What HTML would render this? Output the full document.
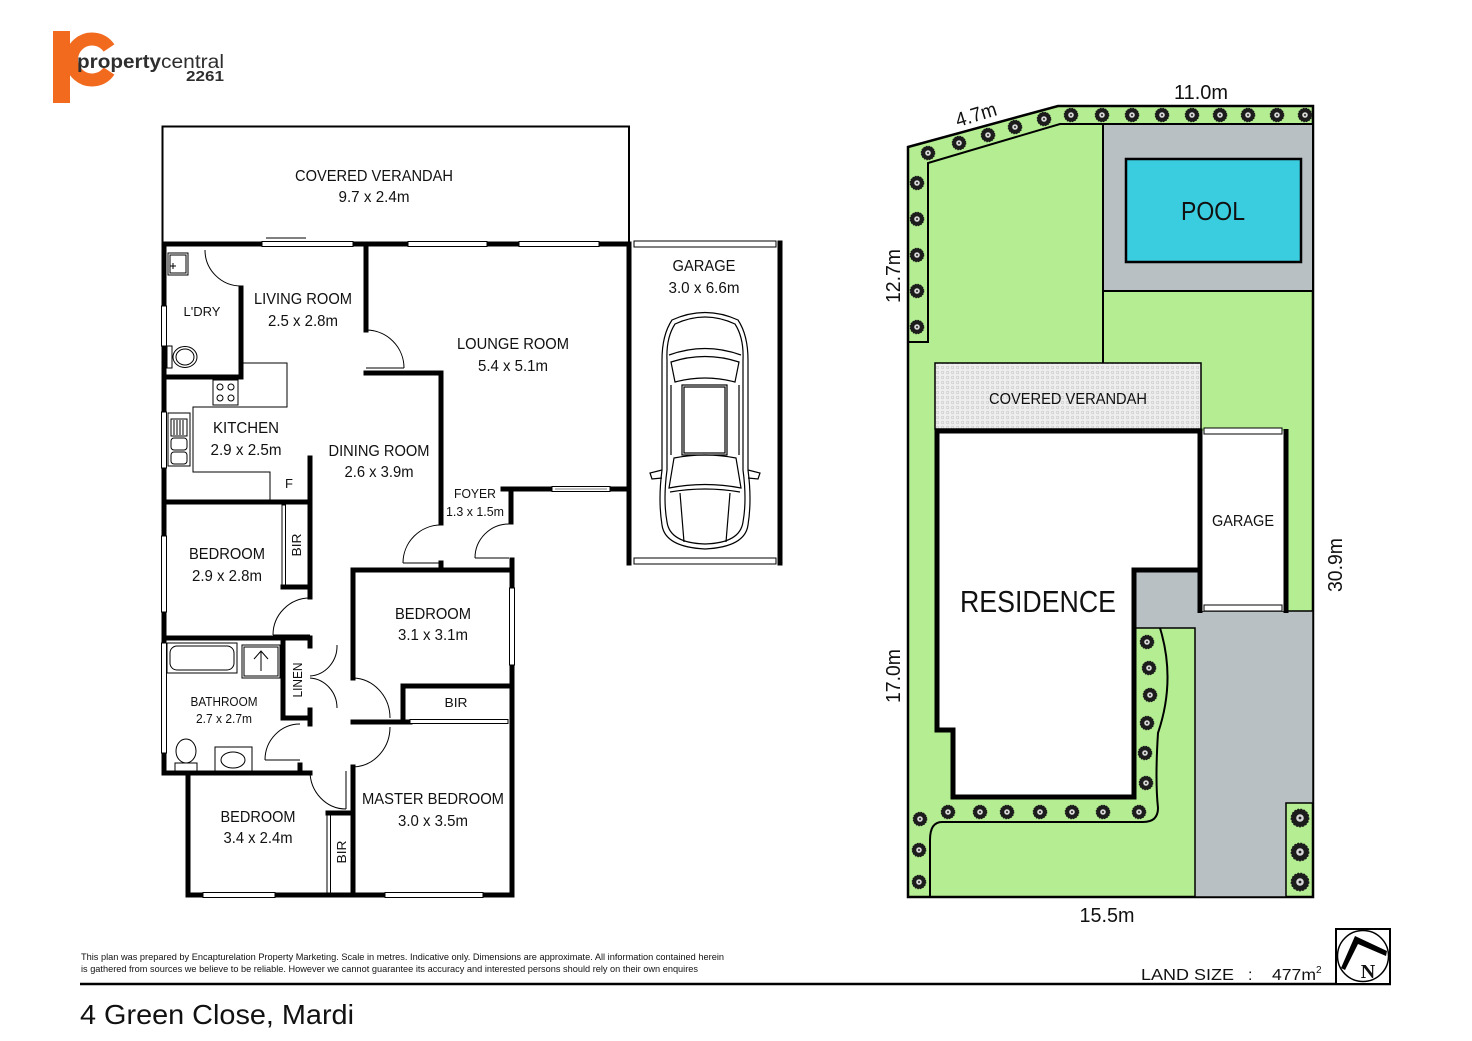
<!DOCTYPE html>
<html><head><meta charset="utf-8"><style>
html,body{margin:0;padding:0;background:#fff;}
svg{display:block;}
text{font-family:"Liberation Sans",Arial,sans-serif;fill:#111;}
</style></head><body>
<svg width="1472" height="1041" viewBox="0 0 1472 1041" xmlns="http://www.w3.org/2000/svg">
<defs>
<g id="sh"><circle r="6.8" fill="#1c1c1c" stroke="#1c1c1c" stroke-width="1" stroke-dasharray="1.5 1.2"/><circle r="2.8" fill="#d6d6d6"/><circle r="1" fill="#222"/></g>
<g id="shb"><circle r="8.8" fill="#1c1c1c" stroke="#1c1c1c" stroke-width="1.2" stroke-dasharray="1.8 1.4"/><circle r="3.8" fill="#d6d6d6"/><circle r="1.4" fill="#222"/></g>
<pattern id="dots" width="5" height="5" patternUnits="userSpaceOnUse"><rect width="5" height="5" fill="#eeeeee"/><circle cx="2.5" cy="2.5" r="1.3" fill="none" stroke="#c8c8c8" stroke-width="0.6"/></pattern>
</defs>

<!-- LOGO -->
<rect x="53" y="31" width="17" height="72" fill="#f26a1d"/>
<path d="M 109 48 A 20.5 20.5 0 1 0 109 71" fill="none" stroke="#f26a1d" stroke-width="13"/>
<text x="77" y="68" font-size="19" font-weight="bold" textLength="84" lengthAdjust="spacingAndGlyphs" style="fill:#2e2e2e">property</text>
<text x="161" y="68" font-size="19" textLength="63" lengthAdjust="spacingAndGlyphs" style="fill:#2e2e2e">central</text>
<text x="186" y="81" font-size="15" font-weight="bold" textLength="38" lengthAdjust="spacingAndGlyphs" style="fill:#2e2e2e">2261</text>

<!-- ================= FLOOR PLAN ================= -->
<rect x="162.5" y="126.5" width="466.5" height="116" fill="none" stroke="#000" stroke-width="2"/>
<text x="374" y="181" font-size="16" text-anchor="middle" textLength="158" lengthAdjust="spacingAndGlyphs">COVERED VERANDAH</text>
<text x="374" y="202" font-size="16" text-anchor="middle" textLength="71" lengthAdjust="spacingAndGlyphs">9.7 x 2.4m</text>

<g stroke="#000" stroke-width="5" stroke-linecap="square" fill="none">
<line x1="164" y1="244" x2="629" y2="244"/>
<line x1="164" y1="244" x2="164" y2="773"/>
<line x1="164" y1="773" x2="310" y2="773"/>
<line x1="188" y1="773" x2="188" y2="895"/>
<line x1="188" y1="895" x2="512" y2="895"/>
<line x1="512" y1="560" x2="512" y2="895"/>
<line x1="511" y1="489" x2="511" y2="522"/>
<line x1="503" y1="489" x2="629" y2="489"/>
<line x1="629" y1="244" x2="629" y2="563"/>
<line x1="780" y1="243" x2="780" y2="563"/>
<line x1="366" y1="244" x2="366" y2="330"/>
<line x1="366" y1="373" x2="441" y2="373"/>
<line x1="441" y1="373" x2="441" y2="523"/>
<line x1="441" y1="563" x2="441" y2="569"/>
<line x1="353" y1="570" x2="512" y2="570"/>
<line x1="353" y1="570" x2="353" y2="678"/>
<line x1="353" y1="722" x2="410" y2="722"/>
<line x1="403" y1="686" x2="512" y2="686"/>
<line x1="403" y1="686" x2="403" y2="722"/>
<line x1="353" y1="767" x2="353" y2="895"/>
<line x1="328" y1="813" x2="353" y2="813"/>
<line x1="241" y1="288" x2="241" y2="377"/>
<line x1="164" y1="377" x2="241" y2="377"/>
<line x1="310" y1="458" x2="310" y2="502"/>
<line x1="164" y1="502" x2="310" y2="502"/>
<line x1="310" y1="502" x2="310" y2="597"/>
<line x1="283" y1="587" x2="310" y2="587"/>
<line x1="164" y1="638" x2="310" y2="638"/>
<line x1="283" y1="642" x2="283" y2="718"/>
<line x1="283" y1="718" x2="310" y2="718"/>
<line x1="310" y1="638" x2="310" y2="646"/>
<line x1="310" y1="710" x2="310" y2="724"/>
<line x1="300" y1="765" x2="300" y2="773"/>
</g>

<g fill="#fff" stroke="#000" stroke-width="1">
<rect x="262" y="241.5" width="91" height="5"/>
<rect x="408" y="241.5" width="79" height="5"/>
<rect x="519" y="241.5" width="80" height="5"/>
<rect x="161.5" y="306" width="5" height="40"/>
<rect x="161.5" y="412" width="5" height="56"/>
<rect x="161.5" y="536" width="5" height="76"/>
<rect x="161.5" y="643" width="5" height="110"/>
<rect x="203" y="892.5" width="72" height="5"/>
<rect x="385" y="892.5" width="98" height="5"/>
<rect x="509.5" y="588" width="5" height="77"/>
<rect x="552" y="486.5" width="58" height="5"/>
<rect x="634" y="241" width="142" height="6"/>
<rect x="634" y="558" width="142" height="6"/>
<rect x="410" y="719.5" width="98" height="4"/>
<rect x="282" y="505" width="3.5" height="80"/>
<rect x="327" y="815" width="3.5" height="78"/>
</g>
<line x1="266" y1="238" x2="306" y2="238" stroke="#000" stroke-width="1"/>
<line x1="555" y1="489" x2="607" y2="489" stroke="#000" stroke-width="0.6"/>

<g fill="none" stroke="#000" stroke-width="1">
<path d="M 205 250 A 36 36 0 0 0 241 286"/>
<path d="M 366 330 A 38 38 0 0 1 404 368"/><line x1="366" y1="368" x2="404" y2="368"/>
<path d="M 403 563 A 38 38 0 0 1 441 525"/><line x1="403" y1="563" x2="441" y2="563"/>
<path d="M 475 558 A 34 34 0 0 1 509 524"/><line x1="475" y1="558" x2="509" y2="558"/>
<path d="M 273 635 A 37 37 0 0 1 310 598"/><line x1="273" y1="635" x2="310" y2="635"/>
<path d="M 353 678 A 38 40 0 0 1 390 718"/>
<path d="M 390 727 A 38 40 0 0 1 353 767"/>
<path d="M 337 645 A 29 30 0 0 1 310 676"/>
<path d="M 310 678 A 29 30 0 0 1 337 708"/>
<path d="M 265 760 A 35 36 0 0 1 300 724"/><line x1="265" y1="760" x2="300" y2="760"/>
<path d="M 310 771 A 36 38 0 0 0 346 809"/><line x1="346" y1="771" x2="346" y2="809"/>
</g>

<g fill="none" stroke="#000" stroke-width="1">
<rect x="168" y="253" width="20" height="22"/><rect x="170" y="255" width="16" height="18"/>
<line x1="170" y1="266" x2="176" y2="266"/><line x1="173" y1="263" x2="173" y2="269"/>
<rect x="167" y="346" width="5" height="22"/>
<ellipse cx="185" cy="357" rx="12" ry="10.5"/><ellipse cx="185" cy="357" rx="9" ry="8"/>
<polyline points="243,363 287,363 287,407 193,407 193,472 270,472 270,501"/>
<rect x="213" y="380" width="25" height="25"/>
<circle cx="220" cy="387" r="3"/><circle cx="231" cy="387" r="3"/><circle cx="220" cy="398" r="3"/><circle cx="231" cy="398" r="3"/>
<rect x="168" y="413" width="22" height="53"/>
<rect x="171" y="419" width="16" height="17"/>
<line x1="174" y1="420" x2="174" y2="435"/><line x1="177" y1="420" x2="177" y2="435"/><line x1="180" y1="420" x2="180" y2="435"/><line x1="183" y1="420" x2="183" y2="435"/>
<rect x="171" y="438" width="16" height="12" rx="3"/><rect x="171" y="452" width="16" height="12" rx="3"/>
<rect x="167" y="643" width="70" height="30"/><rect x="170" y="646" width="64" height="24" rx="7"/>
<rect x="242" y="645" width="38" height="33"/><rect x="244" y="647" width="34" height="29"/>
<line x1="261" y1="651" x2="261" y2="671"/><polyline points="254,659 261,651 268,659"/>
<ellipse cx="186" cy="751" rx="10" ry="12"/><rect x="175" y="763" width="22" height="8"/>
<rect x="215" y="747" width="37" height="26"/><ellipse cx="233" cy="760" rx="12" ry="8"/>
</g>

<!-- car -->
<g fill="none" stroke="#000" stroke-width="1.2">
<path d="M 672 320 Q 705 305 738 320 Q 748 335 748 360 L 748 470 Q 752 500 748 525 Q 745 547 705 549 Q 665 547 662 525 Q 658 500 662 470 L 662 360 Q 662 335 672 320 Z"/>
<path d="M 675 324 Q 705 310 735 324 Q 744 338 743 360 L 743 470 Q 747 500 743 522 Q 740 543 705 544 Q 670 543 667 522 Q 663 500 667 470 L 667 360 Q 666 338 675 324 Z"/>
<path d="M 669 355 Q 705 342 741 355"/>
<path d="M 671 362 Q 705 351 739 362 L 735 382 Q 705 374 675 382 Z"/>
<rect x="682" y="385" width="45" height="70"/><rect x="684" y="387" width="41" height="66"/>
<path d="M 674 458 Q 705 452 736 458 L 741 488 Q 705 481 669 488 Z"/>
<path d="M 670 492 Q 705 486 740 492"/>
<line x1="680" y1="493" x2="684" y2="542"/><line x1="730" y1="493" x2="726" y2="542"/>
<path d="M 662 470 L 650 473 L 652 479 L 662 478"/>
<path d="M 748 470 L 760 473 L 758 479 L 748 478"/>
<line x1="671" y1="385" x2="671" y2="455"/><line x1="739" y1="385" x2="739" y2="455"/>
</g>

<g font-size="16" text-anchor="middle">
<text x="303" y="304" textLength="98" lengthAdjust="spacingAndGlyphs">LIVING ROOM</text>
<text x="303" y="326" textLength="70" lengthAdjust="spacingAndGlyphs">2.5 x 2.8m</text>
<text x="202" y="316" font-size="13" textLength="37" lengthAdjust="spacingAndGlyphs">L'DRY</text>
<text x="513" y="349" textLength="112" lengthAdjust="spacingAndGlyphs">LOUNGE ROOM</text>
<text x="513" y="371" textLength="70" lengthAdjust="spacingAndGlyphs">5.4 x 5.1m</text>
<text x="704" y="271" textLength="63" lengthAdjust="spacingAndGlyphs">GARAGE</text>
<text x="704" y="293" textLength="71" lengthAdjust="spacingAndGlyphs">3.0 x 6.6m</text>
<text x="246" y="433" textLength="66" lengthAdjust="spacingAndGlyphs">KITCHEN</text>
<text x="246" y="455" textLength="71" lengthAdjust="spacingAndGlyphs">2.9 x 2.5m</text>
<text x="379" y="456" textLength="101" lengthAdjust="spacingAndGlyphs">DINING ROOM</text>
<text x="379" y="477" textLength="69" lengthAdjust="spacingAndGlyphs">2.6 x 3.9m</text>
<text x="289" y="488" font-size="13">F</text>
<text x="475" y="498" font-size="13" textLength="42" lengthAdjust="spacingAndGlyphs">FOYER</text>
<text x="475" y="516" font-size="13" textLength="58" lengthAdjust="spacingAndGlyphs">1.3 x 1.5m</text>
<text x="227" y="559" textLength="76" lengthAdjust="spacingAndGlyphs">BEDROOM</text>
<text x="227" y="581" textLength="70" lengthAdjust="spacingAndGlyphs">2.9 x 2.8m</text>
<text x="433" y="619" textLength="76" lengthAdjust="spacingAndGlyphs">BEDROOM</text>
<text x="433" y="640" textLength="70" lengthAdjust="spacingAndGlyphs">3.1 x 3.1m</text>
<text x="224" y="706" font-size="13" textLength="67" lengthAdjust="spacingAndGlyphs">BATHROOM</text>
<text x="224" y="723" font-size="13" textLength="56" lengthAdjust="spacingAndGlyphs">2.7 x 2.7m</text>
<text x="456" y="707" font-size="13" textLength="23" lengthAdjust="spacingAndGlyphs">BIR</text>
<text x="433" y="804" textLength="142" lengthAdjust="spacingAndGlyphs">MASTER BEDROOM</text>
<text x="433" y="826" textLength="70" lengthAdjust="spacingAndGlyphs">3.0 x 3.5m</text>
<text x="258" y="822" textLength="75" lengthAdjust="spacingAndGlyphs">BEDROOM</text>
<text x="258" y="843" textLength="69" lengthAdjust="spacingAndGlyphs">3.4 x 2.4m</text>
<text transform="translate(301,545) rotate(-90)" font-size="13" textLength="23" lengthAdjust="spacingAndGlyphs">BIR</text>
<text transform="translate(302,680) rotate(-90)" font-size="13" textLength="35" lengthAdjust="spacingAndGlyphs">LINEN</text>
<text transform="translate(346,852) rotate(-90)" font-size="13" textLength="23" lengthAdjust="spacingAndGlyphs">BIR</text>
</g>

<!-- ================= SITE PLAN ================= -->
<polygon points="908,147 1058,106 1313,106 1313,897 908,897" fill="#b5ee92" stroke="#000" stroke-width="2.5"/>
<polyline points="908,342 928,342 928,163 1060,124 1313,124" fill="none" stroke="#000" stroke-width="2"/>
<rect x="1103" y="124" width="210" height="167" fill="#b8c0c3" stroke="#000" stroke-width="2"/>
<rect x="1126" y="159" width="175" height="103" fill="#3acde0" stroke="#000" stroke-width="2.5"/>
<text x="1213" y="220" font-size="26" text-anchor="middle" textLength="64" lengthAdjust="spacingAndGlyphs">POOL</text>
<line x1="1103" y1="291" x2="1103" y2="363" stroke="#000" stroke-width="2"/>
<rect x="935" y="363" width="266" height="66" fill="url(#dots)" stroke="#000" stroke-width="1.5"/>
<text x="1068" y="404" font-size="16" text-anchor="middle" textLength="158" lengthAdjust="spacingAndGlyphs">COVERED VERANDAH</text>
<polygon points="1135,571 1200,571 1200,611 1313,611 1313,803 1286,803 1286,897 1195,897 1195,628 1135,628" fill="#b8c0c3" stroke="#000" stroke-width="1.5"/>
<polygon points="937,431 1200,431 1200,570 1134,570 1134,797 953,797 953,730 937,730" fill="#fff" stroke="#000" stroke-width="5"/>
<text x="1038" y="612" font-size="31" text-anchor="middle" textLength="156" lengthAdjust="spacingAndGlyphs">RESIDENCE</text>
<rect x="1200" y="431" width="86" height="180" fill="#fff"/>
<line x1="1200" y1="429" x2="1200" y2="613" stroke="#000" stroke-width="5"/>
<line x1="1286" y1="429" x2="1286" y2="613" stroke="#000" stroke-width="5"/>
<rect x="1204" y="428" width="78" height="6" fill="#fff" stroke="#000" stroke-width="1"/>
<rect x="1204" y="605" width="78" height="6" fill="#fff" stroke="#000" stroke-width="1"/>
<text x="1243" y="526" font-size="16" text-anchor="middle" textLength="62" lengthAdjust="spacingAndGlyphs">GARAGE</text>
<path d="M 1160 628 Q 1176 680 1158 733 Q 1155 780 1158 808 Q 1158 822 1143 822 L 942 822 Q 930 822 930 840 L 930 897" fill="none" stroke="#000" stroke-width="2"/>
<g>
<use href="#sh" x="928" y="153"/><use href="#sh" x="959" y="143"/><use href="#sh" x="988" y="135"/><use href="#sh" x="1015" y="127"/><use href="#sh" x="1044" y="119"/>
<use href="#sh" x="1071" y="115"/><use href="#sh" x="1102" y="115"/><use href="#sh" x="1132" y="115"/><use href="#sh" x="1162" y="115"/><use href="#sh" x="1192" y="115"/><use href="#sh" x="1220" y="115"/><use href="#sh" x="1248" y="115"/><use href="#sh" x="1277" y="115"/><use href="#sh" x="1305" y="115"/>
<use href="#sh" x="917" y="183"/><use href="#sh" x="917" y="219"/><use href="#sh" x="917" y="255"/><use href="#sh" x="917" y="291"/><use href="#sh" x="917" y="327"/>
<use href="#sh" x="1147" y="642"/><use href="#sh" x="1149" y="668"/><use href="#sh" x="1150" y="695"/><use href="#sh" x="1147" y="723"/><use href="#sh" x="1145" y="753"/><use href="#sh" x="1146" y="783"/>
<use href="#sh" x="948" y="812"/><use href="#sh" x="980" y="812"/><use href="#sh" x="1007" y="812"/><use href="#sh" x="1040" y="812"/><use href="#sh" x="1072" y="812"/><use href="#sh" x="1103" y="812"/><use href="#sh" x="1139" y="812"/>
<use href="#sh" x="920" y="819"/><use href="#sh" x="919" y="850"/><use href="#sh" x="919" y="882"/>
<use href="#shb" x="1300" y="818"/><use href="#shb" x="1300" y="852"/><use href="#shb" x="1300" y="882"/>
</g>
<g font-size="20">
<text x="1201" y="99" text-anchor="middle" textLength="54" lengthAdjust="spacingAndGlyphs">11.0m</text>
<text x="1107" y="922" text-anchor="middle" textLength="55" lengthAdjust="spacingAndGlyphs">15.5m</text>
<text transform="translate(978,121) rotate(-17)" text-anchor="middle" textLength="42" lengthAdjust="spacingAndGlyphs">4.7m</text>
<text transform="translate(900,276) rotate(-90)" text-anchor="middle" textLength="54" lengthAdjust="spacingAndGlyphs">12.7m</text>
<text transform="translate(900,676) rotate(-90)" text-anchor="middle" textLength="54" lengthAdjust="spacingAndGlyphs">17.0m</text>
<text transform="translate(1342,565) rotate(-90)" text-anchor="middle" textLength="54" lengthAdjust="spacingAndGlyphs">30.9m</text>
</g>

<!-- ================= FOOTER ================= -->
<text x="81" y="960" font-size="9.5" textLength="643" lengthAdjust="spacingAndGlyphs">This plan was  prepared by Encapturelation Property Marketing. Scale in metres. Indicative only. Dimensions are approximate. All information contained  herein</text>
<text x="81" y="972" font-size="9.5" textLength="617" lengthAdjust="spacingAndGlyphs">is gathered from sources we believe to be reliable. However we cannot guarantee its accuracy and interested persons should rely on their own enquires</text>
<line x1="80" y1="984" x2="1391" y2="984" stroke="#000" stroke-width="2.5"/>
<text x="80" y="1024" font-size="28" textLength="274" lengthAdjust="spacingAndGlyphs">4 Green Close, Mardi</text>
<text x="1141" y="980" font-size="16" textLength="93" lengthAdjust="spacingAndGlyphs">LAND SIZE</text>
<text x="1248" y="980" font-size="16">:</text>
<text x="1272" y="980" font-size="16" textLength="44" lengthAdjust="spacingAndGlyphs">477m</text>
<text x="1316" y="973" font-size="10">2</text>
<rect x="1336" y="929" width="54" height="55" fill="#fff" stroke="#000" stroke-width="2"/>
<circle cx="1363" cy="956" r="25.5" fill="none" stroke="#000" stroke-width="1.5"/>
<path d="M 1341 968 L 1355 936 L 1387 951 L 1386 956 L 1358 944 L 1345 970 Z" fill="#000"/>
<text x="1368" y="978" font-size="20" font-weight="bold" text-anchor="middle" style="font-family:'Liberation Serif',serif">N</text>
</svg>
</body></html>
